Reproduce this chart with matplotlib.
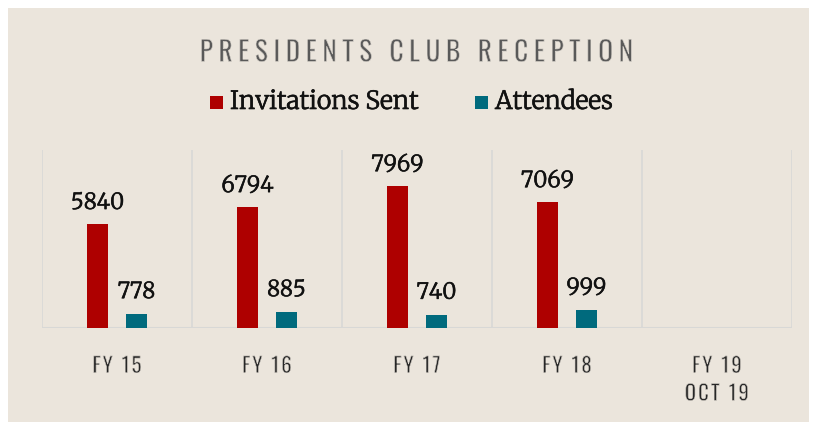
import matplotlib
matplotlib.use("Agg")
import matplotlib.pyplot as plt
from matplotlib.patches import Rectangle
from matplotlib.font_manager import FontProperties
import matplotlib.patheffects as pe
import numpy as np

categories = ["FY 15", "FY 16", "FY 17", "FY 18", "FY 19\nOCT 19"]
invitations = [5840, 6794, 7969, 7069, None]
attendees = [778, 885, 740, 999, None]
series_names = ["Invitations Sent", "Attendees"]
title = "PRESIDENTS CLUB RECEPTION"

W, H = 817, 430
BG = "#EBE5DC"
RED = "#AE0000"
TEAL = "#006A7D"
GRID = "#D8D8D6"
COND = ["Oswald", "DejaVu Sans"]
SERIF = ["Merriweather", "DejaVu Serif"]

fig = plt.figure(figsize=(W / 100, H / 100), dpi=100, facecolor="white")
fig.patches.append(Rectangle((8 / W, 8 / H), (809 - 8) / W, (422 - 8) / H,
                             transform=fig.transFigure, facecolor=BG, edgecolor="none", zorder=-5))


def fx(px):
    return px / W


def fy(py):
    return 1 - py / H


def tracked(s, inner, around=""):
    # letter-spacing: a thin gap between letters, extra gap around word spaces
    words = s.split(" ")
    return (around + " " + around).join(inner.join(w) for w in words)


thin = [pe.Normal(), pe.Stroke(linewidth=0.45, foreground=BG)]
bold_serif = [pe.withStroke(linewidth=0.45, foreground="#111111")]

ax = fig.add_axes([fx(42), fy(328), fx(792) - fx(42), fy(150) - fy(328)])
ax.set_facecolor("none")
ax.set_zorder(2)
ax.set_xlim(-0.5, len(categories) - 0.5)
ax.set_ylim(0, 10000)

x = np.arange(len(categories))
off = 0.13
bw = 0.14
inv_vals = [v if v is not None else 0 for v in invitations]
att_vals = [v if v is not None else 0 for v in attendees]
ax.bar(x - off, inv_vals, bw, color=RED, zorder=3)
ax.bar(x + off, att_vals, bw, color=TEAL, zorder=3)

for xi, v in zip(x, invitations):
    if v is not None:
        ax.annotate(str(v), (xi - off, v), xytext=(0, 9), textcoords="offset pixels",
                    ha="center", va="bottom", fontsize=16, family=SERIF, color="#111111",
                    path_effects=bold_serif)
for xi, v in zip(x, attendees):
    if v is not None:
        ax.annotate(str(v), (xi + off, v), xytext=(0, 10), textcoords="offset pixels",
                    ha="center", va="bottom", fontsize=16, family=SERIF, color="#111111",
                    path_effects=bold_serif)

for b in np.arange(-0.5, len(categories), 1.0):
    ax.axvline(b, color=GRID, lw=1.2, zorder=1)
ax.axhline(0, color=GRID, lw=1.5, zorder=2)

for s in ax.spines.values():
    s.set_visible(False)
ax.set_yticks([])
ax.set_xticks(x)

cat_fp = FontProperties(family=COND, size=15)
cat_labels = ["\n".join(tracked(line, "\u200a", "\u200a") for line in c.split("\n"))
              for c in categories]
ax.set_xticklabels(cat_labels, fontproperties=cat_fp, color="#262626", linespacing=1.45)
for t in ax.get_xticklabels():
    t.set_path_effects(thin)
ax.tick_params(axis="x", length=0, pad=20)

title_fp = FontProperties(family=COND, size=19.8)
fig.text(fx(416.5), fy(53), tracked(title, "\u2009", "\u2009"), ha="center", va="center",
         fontproperties=title_fp, color="#595959", path_effects=thin)

# legend
fig.patches.append(Rectangle((fx(210), fy(109)), fx(13), fy(96) - fy(109),
                             transform=fig.transFigure, facecolor=RED, edgecolor="none"))
fig.text(fx(230), fy(109), series_names[0], ha="left", va="baseline", family=SERIF,
         fontsize=18, color="#111111", path_effects=bold_serif)
fig.patches.append(Rectangle((fx(475), fy(109)), fx(13), fy(96) - fy(109),
                             transform=fig.transFigure, facecolor=TEAL, edgecolor="none"))
fig.text(fx(495), fy(109), series_names[1], ha="left", va="baseline", family=SERIF,
         fontsize=18, color="#111111", path_effects=bold_serif)

fig.savefig("out.png", dpi=100, facecolor="white")
